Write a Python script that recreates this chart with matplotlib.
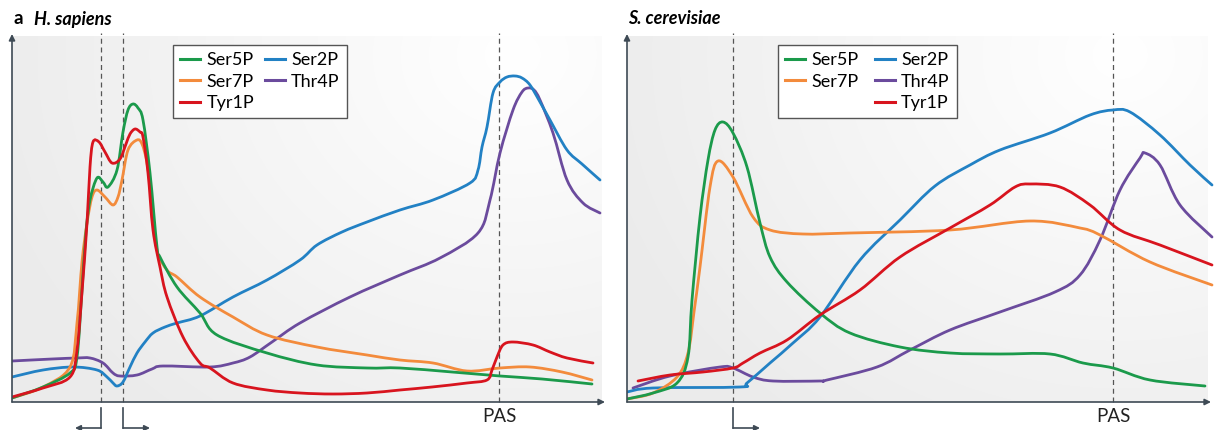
import numpy as np
import matplotlib
matplotlib.use("Agg")
from matplotlib import pyplot as plt
from matplotlib.lines import Line2D
from matplotlib.path import Path
from matplotlib.patches import PathPatch

plt.rcParams['font.family'] = ['Lato', 'DejaVu Sans']

# ---- H. sapiens (position along gene, signal level; arbitrary units) ----
hs_ser5_x = [0, 31, 58, 65, 70, 74, 78, 85, 91, 96, 105, 111, 116, 121, 126, 131, 138, 145, 148, 165, 188, 205, 255, 305, 355, 388, 440, 488, 530, 580]
hs_ser5_y = [4, 15, 29, 45, 112, 170, 202, 224, 220, 215, 232, 270, 292, 298, 294, 282, 229, 155, 145, 115, 89, 67, 49, 37, 34, 34, 30, 26, 23, 18]

hs_ser7_x = [0, 31, 58, 65, 70, 75, 80, 85, 93, 101, 106, 110, 116, 125, 130, 135, 140, 145, 155, 165, 188, 221, 255, 305, 355, 388, 421, 455, 488, 518, 550, 580]
hs_ser7_y = [4, 15, 35, 79, 140, 179, 205, 212, 205, 197, 205, 222, 252, 262, 258, 239, 200, 152, 132, 125, 105, 85, 67, 55, 47, 42, 39, 31, 34, 35, 30, 22]

hs_tyr1_x = [0, 31, 58, 65, 70, 75, 78, 81, 87, 93, 100, 108, 114, 118, 123, 128, 131, 136, 141, 148, 155, 171, 188, 198, 221, 255, 288, 321, 355, 388, 420, 455, 475, 480, 485, 491, 501, 521, 538, 555, 581]
hs_tyr1_y = [5, 14, 25, 52, 110, 179, 235, 260, 260, 250, 239, 243, 258, 268, 273, 270, 265, 229, 172, 135, 105, 65, 39, 34, 19, 12, 9, 8, 9, 12, 15, 19, 22, 32, 45, 57, 60, 57, 50, 44, 39]

hs_ser2_x = [0, 31, 61, 85, 95, 101, 105, 111, 118, 125, 133, 141, 153, 165, 188, 221, 255, 288, 305, 330, 355, 388, 421, 458, 466, 470, 475, 481, 488, 495, 503, 510, 518, 528, 538, 555, 570, 588]
hs_ser2_y = [25, 32, 35, 32, 25, 19, 16, 20, 35, 49, 60, 69, 75, 79, 86, 105, 122, 142, 157, 170, 180, 192, 202, 219, 232, 255, 275, 309, 320, 325, 326, 324, 317, 300, 282, 252, 238, 222]

hs_thr4_x = [0, 40, 65, 78, 91, 101, 108, 125, 140, 151, 198, 221, 238, 260, 288, 338, 388, 428, 466, 478, 488, 501, 510, 516, 522, 528, 541, 555, 571, 588]
hs_thr4_y = [41, 43, 44, 44, 39, 29, 26, 27, 33, 36, 35, 39, 45, 60, 79, 105, 127, 144, 169, 202, 249, 292, 310, 314, 312, 302, 269, 222, 199, 189]

# ---- S. cerevisiae ----
sc_ser5_x = [0, 26, 50, 61, 65, 73, 81, 88, 96, 106, 120, 133, 143, 160, 193, 223, 273, 323, 373, 423, 456, 486, 523, 578]
sc_ser5_y = [3, 9, 19, 45, 102, 185, 242, 272, 280, 269, 235, 179, 145, 120, 89, 69, 55, 49, 48, 48, 39, 34, 22, 16]

sc_ser7_x = [0, 26, 50, 61, 67, 73, 83, 91, 106, 126, 143, 176, 223, 323, 403, 453, 473, 523, 585]
sc_ser7_y = [3, 9, 25, 49, 90, 135, 215, 241, 225, 185, 172, 168, 169, 172, 181, 174, 167, 140, 117]

sc_ser2_x = [0, 26, 113, 120, 143, 166, 193, 233, 273, 308, 343, 373, 423, 463, 486, 503, 533, 563, 585]
sc_ser2_y = [10, 14, 15, 19, 39, 59, 85, 142, 182, 216, 237, 252, 269, 287, 292, 290, 267, 237, 217]

sc_tyr1_x = [11, 43, 76, 106, 116, 133, 160, 193, 233, 273, 323, 363, 388, 403, 433, 463, 493, 533, 585]
sc_tyr1_y = [21, 27, 30, 34, 39, 49, 62, 87, 112, 145, 174, 197, 215, 218, 215, 197, 172, 157, 137]

sc_thr4_x = [6, 43, 93, 106, 126, 146, 193, 200, 250, 283, 323, 373, 428, 453, 473, 493, 513, 518, 533, 553, 585]
sc_thr4_y = [14, 26, 35, 34, 25, 21, 21, 22, 35, 52, 72, 90, 110, 127, 162, 212, 244, 249, 237, 197, 165]

labels = ['Ser5P', 'Ser7P', 'Tyr1P', 'Ser2P', 'Thr4P']
colors = {'Ser5P': '#1b9a4b', 'Ser7P': '#f38b3c', 'Tyr1P': '#d8141e',
          'Ser2P': '#2281c4', 'Thr4P': '#6b4b9d'}

hs_marks = [89, 111]
sc_marks = [106]
hs_pas = 487
sc_pas = 486

W, H = 1216, 430
fig = plt.figure(figsize=(W / 100, H / 100), dpi=100)
axcol = '#3e4a55'


def smooth_curve(ax, x, y, color):
    # draw a curve through the read points as cubic bezier segments
    p = np.column_stack([x, y]).astype(float)
    verts = [p[0]]
    codes = [Path.MOVETO]
    n = len(p)
    for i in range(n - 1):
        p0 = p[max(i - 1, 0)]
        p1, p2 = p[i], p[i + 1]
        p3 = p[min(i + 2, n - 1)]
        c1 = p1 + (p2 - p0) / 6.0
        c2 = p2 - (p3 - p1) / 6.0
        verts += [c1, c2, p2]
        codes += [Path.CURVE4] * 3
    ax.add_patch(PathPatch(Path(verts, codes), fill=False, edgecolor=color,
                           lw=2.0, zorder=3, joinstyle='round', capstyle='round'))


def make_ax(left_px, width_px):
    ax = fig.add_axes([left_px / W, (H - 402) / H, width_px / W, 372 / H])
    ax.set_xlim(0, width_px)
    ax.set_ylim(0, 372)
    ax.axis('off')
    # soft grey background gradient
    gx, gy = np.meshgrid(np.linspace(0, 1, 300), np.linspace(0, 1, 200))
    d = np.sqrt(((gx - 0.85) * 1.1) ** 2 + ((gy - 0.95) * 0.8) ** 2)
    d = np.clip(d, 0, 1)
    shade = 1.0 - 0.075 * d
    img = np.dstack([shade, shade, shade])
    ax.imshow(img, extent=(0, width_px - 8, 0, 366), origin='lower',
              aspect='auto', zorder=0, interpolation='bicubic')
    ax.annotate('', xy=(width_px - 5, 0), xytext=(0, 0),
                arrowprops=dict(arrowstyle='-|>', color=axcol, lw=1.2,
                                mutation_scale=9, shrinkA=0, shrinkB=0),
                annotation_clip=False, zorder=5)
    ax.annotate('', xy=(0, 368), xytext=(0, 0),
                arrowprops=dict(arrowstyle='-|>', color=axcol, lw=1.2,
                                mutation_scale=9, shrinkA=0, shrinkB=0),
                annotation_clip=False, zorder=5)
    return ax


def draw_marks(ax, marks, pas, dirs):
    for m in marks + [pas]:
        ax.plot([m, m], [0, 369], ls=(0, (4, 3)), color='#555555', lw=0.9,
                zorder=1, clip_on=False)
    for m, dx in zip(marks, dirs):
        ax.plot([m, m], [-6, -26], color=axcol, lw=1.2, clip_on=False)
        ax.annotate('', xy=(m + dx, -26), xytext=(m, -26),
                    arrowprops=dict(arrowstyle='-|>', color=axcol, lw=1.2,
                                    mutation_scale=8, shrinkA=0, shrinkB=0),
                    annotation_clip=False)
    ax.text(pas, -14, 'PAS', ha='center', va='center', fontsize=13.5,
            color='#222222', clip_on=False)


# H. sapiens panel
ax1 = make_ax(12, 598)
draw_marks(ax1, hs_marks, hs_pas, [-26, 27])
hs = {'Ser5P': (hs_ser5_x, hs_ser5_y), 'Ser7P': (hs_ser7_x, hs_ser7_y),
      'Tyr1P': (hs_tyr1_x, hs_tyr1_y), 'Ser2P': (hs_ser2_x, hs_ser2_y),
      'Thr4P': (hs_thr4_x, hs_thr4_y)}
for name in ['Thr4P', 'Ser2P', 'Ser7P', 'Ser5P', 'Tyr1P']:
    x, y = hs[name]
    smooth_curve(ax1, x, y, colors[name])
h1 = [Line2D([], [], color=colors[n], lw=2.2) for n in labels]
leg1 = ax1.legend(h1, labels, ncol=2, loc='upper left',
                  bbox_to_anchor=(161 / 598, 357 / 372), borderaxespad=0,
                  fontsize=13, handlelength=1.1, handletextpad=0.35,
                  columnspacing=0.6, labelspacing=0.3, fancybox=False,
                  framealpha=1, edgecolor='#555555', borderpad=0.4)
leg1.get_frame().set_linewidth(1.0)

# S. cerevisiae panel
ax2 = make_ax(627, 589)
draw_marks(ax2, sc_marks, sc_pas, [27])
sc = {'Ser5P': (sc_ser5_x, sc_ser5_y), 'Ser7P': (sc_ser7_x, sc_ser7_y),
      'Tyr1P': (sc_tyr1_x, sc_tyr1_y), 'Ser2P': (sc_ser2_x, sc_ser2_y),
      'Thr4P': (sc_thr4_x, sc_thr4_y)}
for name in ['Thr4P', 'Ser2P', 'Ser7P', 'Ser5P', 'Tyr1P']:
    x, y = sc[name]
    smooth_curve(ax2, x, y, colors[name])
order2 = ['Ser5P', 'Ser7P', None, 'Ser2P', 'Thr4P', 'Tyr1P']
h2 = [Line2D([], [], color=colors[n], lw=2.2) if n else Line2D([], [], alpha=0)
      for n in order2]
leg2 = ax2.legend(h2, [n if n else ' ' for n in order2], ncol=2, loc='upper left',
                  bbox_to_anchor=(151 / 589, 357 / 372), borderaxespad=0,
                  fontsize=13, handlelength=1.1, handletextpad=0.35,
                  columnspacing=0.9, labelspacing=0.3, fancybox=False,
                  framealpha=1, edgecolor='#555555', borderpad=0.4)
leg2.get_frame().set_linewidth(1.0)

fig.text(14 / W, 1 - 19 / H, 'a', fontsize=13.5, fontweight='bold', va='center')
fig.text(34 / W, 1 - 19 / H, 'H. sapiens', fontsize=13, fontweight='bold',
         fontstyle='italic', va='center')
fig.text(628 / W, 1 - 19 / H, 'S. cerevisiae', fontsize=13, fontweight='bold',
         fontstyle='italic', va='center')

fig.savefig('out.png', dpi=100)
